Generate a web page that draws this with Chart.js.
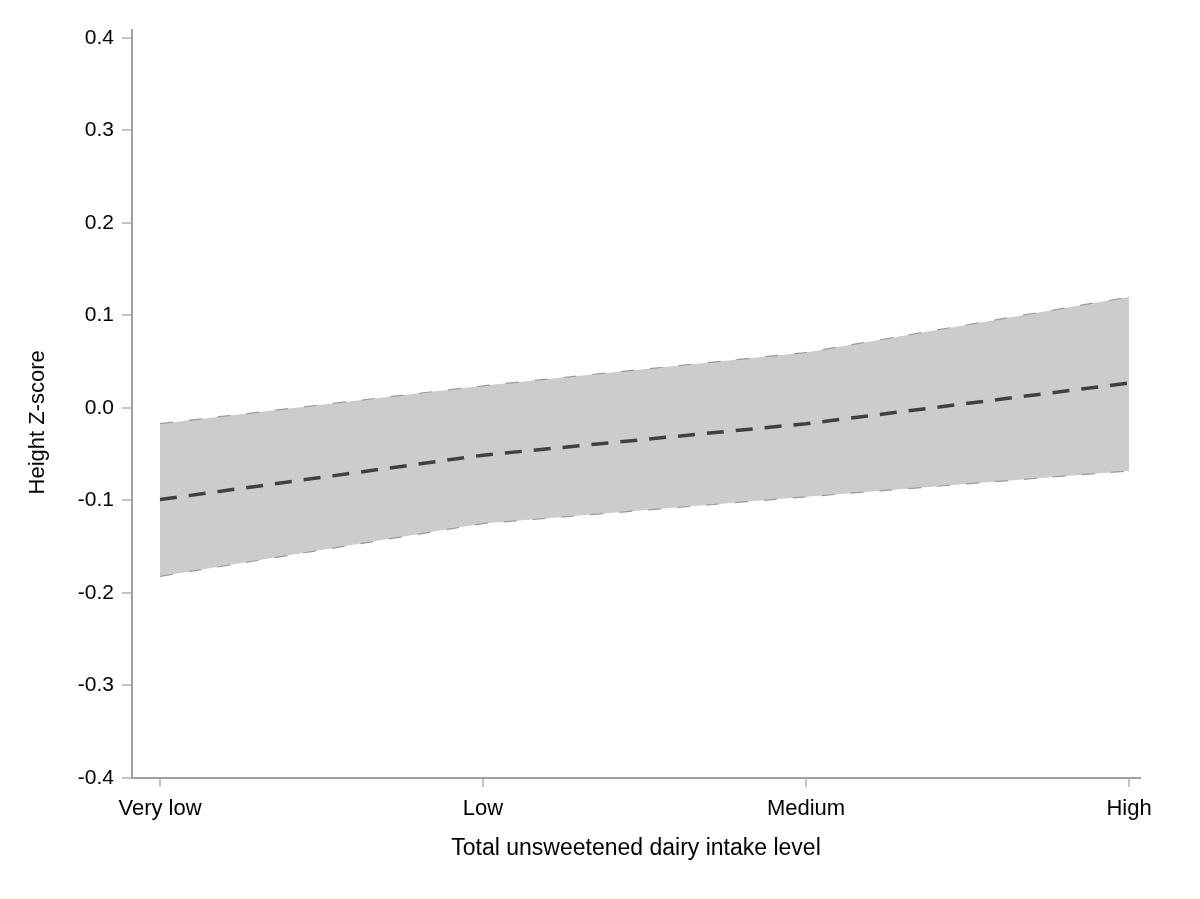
<!DOCTYPE html>
<html>
<head>
<meta charset="utf-8">
<script src="https://cdn.jsdelivr.net/npm/chart.js@4/dist/chart.umd.min.js"></script>
<style>
  html, body { margin: 0; padding: 0; background: #ffffff; }
  #wrap { width: 1200px; height: 899px; position: relative; }
</style>
</head>
<body>
<div id="wrap"><canvas id="c" width="1200" height="899"></canvas></div>
<script>
const categories = ["Very low", "Low", "Medium", "High"];
const meanValues = [-0.099, -0.051, -0.017, 0.027];
const upperValues = [-0.017, 0.024, 0.060, 0.120];
const lowerValues = [-0.182, -0.125, -0.096, -0.068];
const yTickValues = [-0.4, -0.3, -0.2, -0.1, 0.0, 0.1, 0.2, 0.3, 0.4];

const toPoints = arr => arr.map((v, i) => ({ x: i, y: v }));
const FONT = "'Liberation Sans', Arial, Helvetica, sans-serif";

new Chart(document.getElementById('c'), {
  type: 'line',
  data: {
    datasets: [
      {
        label: 'Mean',
        data: toPoints(meanValues),
        borderColor: '#404040',
        borderWidth: 3.5,
        borderDash: [17, 12],
        pointRadius: 0,
        fill: false,
        tension: 0
      },
      {
        label: 'Lower',
        data: toPoints(lowerValues),
        borderColor: '#9a9a9a',
        borderWidth: 1.2,
        borderDash: [13, 16],
        pointRadius: 0,
        fill: false,
        tension: 0
      },
      {
        label: 'Upper',
        data: toPoints(upperValues),
        borderColor: '#9a9a9a',
        borderWidth: 1.2,
        borderDash: [13, 16],
        backgroundColor: '#cccccc',
        pointRadius: 0,
        fill: '-1',
        tension: 0
      }
    ]
  },
  options: {
    responsive: false,
    animation: false,
    layout: { padding: { left: 0, right: 60, top: 30, bottom: 0 } },
    plugins: {
      legend: { display: false },
      tooltip: { enabled: false },
      filler: { propagate: false }
    },
    scales: {
      x: {
        type: 'linear',
        min: -0.0867,
        max: 3.034,
        afterBuildTicks: s => { s.ticks = categories.map((c, i) => ({ value: i })); },
        afterFit: s => { s.height = 121; },
        ticks: {
          callback: v => categories[v] ?? '',
          color: '#000',
          font: { family: FONT, size: 22 },
          padding: 9,
          maxRotation: 0,
          autoSkip: false
        },
        grid: {
          drawOnChartArea: false,
          drawTicks: true,
          tickLength: 9,
          color: '#c4c4c4',
          lineWidth: 2
        },
        border: { display: true, color: '#a0a0a0', width: 2 },
        title: {
          display: true,
          text: 'Total unsweetened dairy intake level',
          color: '#000',
          font: { family: FONT, size: 23 },
          padding: { top: 0, bottom: 37 }
        }
      },
      y: {
        type: 'linear',
        min: -0.4,
        max: 0.4086,
        afterBuildTicks: s => { s.ticks = yTickValues.map(v => ({ value: v })); },
        afterFit: s => { s.width = 132; },
        ticks: {
          callback: v => v.toFixed(1),
          color: '#000',
          font: { family: FONT, size: 21 },
          padding: 8
        },
        grid: {
          drawOnChartArea: false,
          drawTicks: true,
          tickLength: 10,
          color: '#c4c4c4',
          lineWidth: 2
        },
        border: { display: true, color: '#a0a0a0', width: 2 },
        title: {
          display: true,
          text: 'Height Z-score      ',
          color: '#000',
          font: { family: FONT, size: 22 },
          padding: { top: 25, bottom: 0 }
        }
      }
    }
  }
});
</script>
</body>
</html>
